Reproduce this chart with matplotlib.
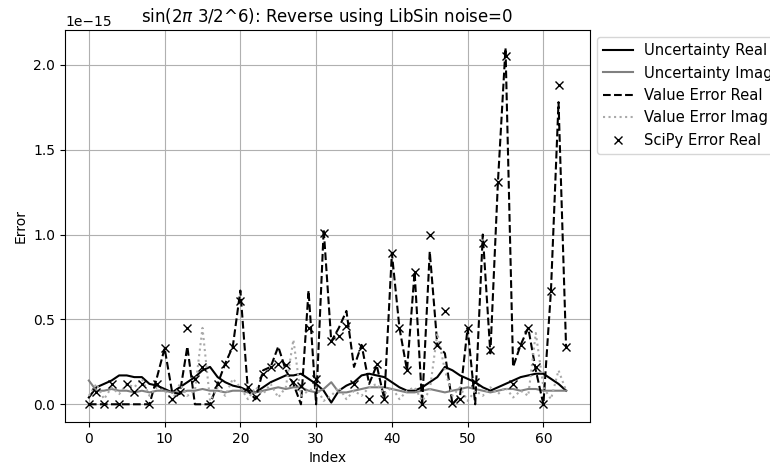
import matplotlib
matplotlib.use("Agg")
import matplotlib.pyplot as plt
import numpy as np

# values in units of 1e-15
index = np.arange(64)
unc_real = [0.04, 0.10, 0.12, 0.14, 0.17, 0.17, 0.16, 0.16, 0.12, 0.11,
            0.09, 0.07, 0.10, 0.13, 0.16, 0.20, 0.22, 0.16, 0.13, 0.11,
            0.10, 0.08, 0.07, 0.10, 0.13, 0.15, 0.17, 0.17, 0.18, 0.15,
            0.12, 0.08, 0.01, 0.08, 0.11, 0.13, 0.17, 0.18, 0.17, 0.16,
            0.13, 0.10, 0.08, 0.08, 0.10, 0.13, 0.16, 0.22, 0.20, 0.17,
            0.15, 0.13, 0.10, 0.08, 0.10, 0.12, 0.14, 0.16, 0.17, 0.18,
            0.18, 0.15, 0.12, 0.08]
unc_imag = [0.14, 0.08, 0.08, 0.09, 0.08, 0.08, 0.07, 0.08, 0.07, 0.08,
            0.08, 0.07, 0.07, 0.08, 0.08, 0.09, 0.08, 0.08, 0.07, 0.08,
            0.08, 0.07, 0.07, 0.08, 0.09, 0.10, 0.09, 0.10, 0.10, 0.08,
            0.07, 0.09, 0.13, 0.07, 0.07, 0.08, 0.09, 0.10, 0.10, 0.10,
            0.09, 0.08, 0.07, 0.07, 0.08, 0.09, 0.08, 0.07, 0.08, 0.09,
            0.10, 0.09, 0.08, 0.07, 0.08, 0.09, 0.09, 0.08, 0.09, 0.09,
            0.08, 0.08, 0.08, 0.08]
val_err_real = [0.00, 0.00, 0.00, 0.00, 0.00, 0.00, 0.00, 0.00, 0.00, 0.16,
                0.33, 0.07, 0.06, 0.34, 0.00, 0.00, 0.00, 0.12, 0.24, 0.34,
                0.67, 0.08, 0.03, 0.20, 0.22, 0.34, 0.20, 0.12, 0.00, 0.67,
                0.00, 1.03, 0.37, 0.45, 0.55, 0.22, 0.35, 0.12, 0.23, 0.03,
                0.89, 0.45, 0.20, 0.78, 0.00, 0.90, 0.35, 0.30, 0.00, 0.05,
                0.45, 0.00, 1.00, 0.30, 1.31, 2.10, 0.22, 0.35, 0.45, 0.20,
                0.00, 0.67, 1.78, 0.33]
val_err_imag = [0.05, 0.12, 0.03, 0.10, 0.06, 0.12, 0.10, 0.15, 0.05, 0.10,
                0.08, 0.02, 0.12, 0.05, 0.08, 0.45, 0.02, 0.10, 0.05, 0.15,
                0.10, 0.03, 0.10, 0.06, 0.12, 0.04, 0.10, 0.38, 0.05, 0.08,
                0.10, 0.02, 0.05, 0.10, 0.03, 0.08, 0.05, 0.10, 0.12, 0.06,
                0.10, 0.03, 0.08, 0.10, 0.02, 0.08, 0.42, 0.20, 0.05, 0.10,
                0.02, 0.08, 0.05, 0.10, 0.06, 0.10, 0.04, 0.08, 0.05, 0.42,
                0.10, 0.03, 0.20, 0.08]
scipy_err_real = [0.00, 0.07, 0.00, 0.12, 0.00, 0.12, 0.07, 0.12, 0.00, 0.12,
                  0.33, 0.03, 0.07, 0.45, 0.15, 0.22, 0.00, 0.12, 0.24, 0.34,
                  0.61, 0.10, 0.04, 0.18, 0.22, 0.24, 0.23, 0.13, 0.11, 0.45,
                  0.15, 1.01, 0.37, 0.40, 0.46, 0.12, 0.34, 0.03, 0.24, 0.03,
                  0.89, 0.45, 0.20, 0.78, 0.00, 1.00, 0.35, 0.55, 0.01, 0.03,
                  0.45, 0.13, 0.95, 0.32, 1.31, 2.05, 0.12, 0.35, 0.45, 0.22,
                  0.00, 0.67, 1.88, 0.34]

scale = 1e-15

fig = plt.figure(figsize=(7.7, 4.69), dpi=100)
ax = fig.add_axes([0.0844, 0.10, 0.6818, 0.836])

ax.plot(index, np.array(unc_real) * scale, color='black', label='Uncertainty Real')
ax.plot(index, np.array(unc_imag) * scale, color='gray', label='Uncertainty Imag')
ax.plot(index, np.array(val_err_real) * scale, color='black', linestyle='--', label='Value Error Real')
ax.plot(index, np.array(val_err_imag) * scale, color='darkgray', linestyle=':', label='Value Error Imag')
ax.plot(index, np.array(scipy_err_real) * scale, 'x', color='black', label='SciPy Error Real')

ax.set_title(r'sin(2$\pi$ 3/2^6): Reverse using LibSin noise=0')
ax.set_xlabel('Index')
ax.set_ylabel('Error')
ax.grid(True)
# legend sits outside the axes and runs past the right edge, as in the original
ax.legend(loc='upper left', bbox_to_anchor=(1, 1), fontsize=10.6)

fig.savefig('out.png', dpi=100)
